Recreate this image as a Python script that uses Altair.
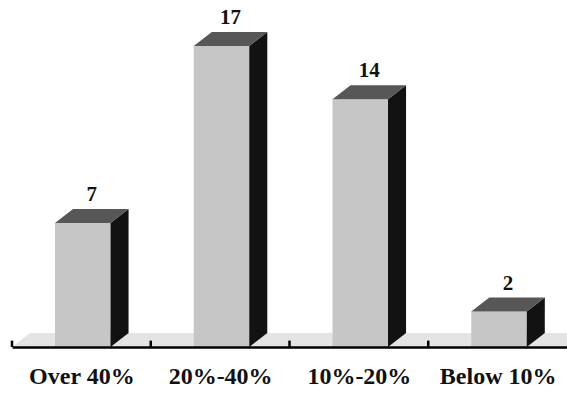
import altair as alt
import pandas as pd

# Distribution of counts by percentage band
categories = ["Over 40%", "20%-40%", "10%-20%", "Below 10%"]
counts = [7, 17, 14, 2]
tick_positions = [0, 1, 2, 3]
label_positions = [0.5, 1.5, 2.5, 3.5]

# Geometry of the pseudo-3D boxes, in data units
FACE_LEFT = 0.31     # offset of the front face inside its band
FACE_WIDTH = 0.40    # width of the front face
DEPTH_X = 0.13       # horizontal extrusion
DEPTH_Y = 0.79       # vertical extrusion
TICK_LEN = 0.36

FRONT = "#c6c6c6"
TOP = "#575757"
SIDE = "#121212"
FLOOR = "#e4e4e4"

front_rows, side_rows, top_rows, label_rows = [], [], [], []
for i, (cat, v) in enumerate(zip(categories, counts)):
    left = i + FACE_LEFT
    right = left + FACE_WIDTH
    front_rows.append({"bar": cat, "x": left, "x2": right, "y": 0, "y2": v})
    side_rows += [
        {"bar": cat, "x": right, "top": v, "base": 0},
        {"bar": cat, "x": right + DEPTH_X, "top": v + DEPTH_Y, "base": DEPTH_Y},
    ]
    top_rows += [
        {"bar": cat, "x": left, "top": v, "base": v},
        {"bar": cat, "x": left + DEPTH_X, "top": v + DEPTH_Y, "base": v},
        {"bar": cat, "x": right, "top": v + DEPTH_Y, "base": v},
        {"bar": cat, "x": right + DEPTH_X, "top": v + DEPTH_Y, "base": v + DEPTH_Y},
    ]
    label_rows.append({"x": left + (FACE_WIDTH + DEPTH_X) / 2, "y": v + DEPTH_Y, "count": v})

floor_rows = [
    {"x": 0, "top": 0, "base": 0},
    {"x": DEPTH_X, "top": DEPTH_Y, "base": 0},
    {"x": 4, "top": DEPTH_Y, "base": 0},
]
tick_rows = [{"x": t, "y": 0, "y2": TICK_LEN} for t in tick_positions]

label_expr = "[" + ",".join("'" + c + "'" for c in categories) + "][floor(datum.value)]"

x_scale = alt.Scale(domain=[0, 4], nice=False, zero=False)
y_scale = alt.Scale(domain=[0, 19.6], nice=False)

x_axis = alt.Axis(
    values=label_positions,
    labelExpr=label_expr,
    title=None,
    grid=False,
    ticks=False,
    tickSize=0,
    domain=True,
    domainColor="#000000",
    domainWidth=2.5,
    labelFont="Liberation Serif",
    labelFontWeight="bold",
    labelFontSize=24,
    labelColor="#111111",
    labelBaseline="alphabetic",
    labelPadding=36,
    labelAngle=0,
    zindex=2,
)

floor = alt.Chart(pd.DataFrame(floor_rows)).mark_area(color=FLOOR).encode(
    x=alt.X("x:Q", scale=x_scale, axis=x_axis),
    y=alt.Y("top:Q", scale=y_scale, axis=None),
    y2="base:Q",
)

front = alt.Chart(pd.DataFrame(front_rows)).mark_rect(color=FRONT).encode(
    x=alt.X("x:Q", scale=x_scale),
    x2="x2:Q",
    y=alt.Y("y:Q", scale=y_scale),
    y2="y2:Q",
)

side = alt.Chart(pd.DataFrame(side_rows)).mark_area(color=SIDE).encode(
    x=alt.X("x:Q", scale=x_scale),
    y=alt.Y("top:Q", scale=y_scale),
    y2="base:Q",
    detail="bar:N",
)

top = alt.Chart(pd.DataFrame(top_rows)).mark_area(color=TOP).encode(
    x=alt.X("x:Q", scale=x_scale),
    y=alt.Y("top:Q", scale=y_scale),
    y2="base:Q",
    detail="bar:N",
)

ticks = alt.Chart(pd.DataFrame(tick_rows)).mark_rule(color="#000000", strokeWidth=2.5).encode(
    x=alt.X("x:Q", scale=x_scale),
    y=alt.Y("y:Q", scale=y_scale),
    y2="y2:Q",
)

labels = alt.Chart(pd.DataFrame(label_rows)).mark_text(
    font="Liberation Serif",
    fontWeight="bold",
    fontSize=21,
    color="#111111",
    baseline="alphabetic",
    dy=-8,
).encode(
    x=alt.X("x:Q", scale=x_scale),
    y=alt.Y("y:Q", scale=y_scale),
    text="count:Q",
)

chart = alt.layer(floor, front, side, top, ticks, labels).properties(
    width=555,
    height=347,
    autosize=alt.AutoSizeParams(type="none"),
    padding={"left": 12, "right": 0, "top": 0, "bottom": 46},
    background="#ffffff",
).configure_view(stroke=None)

chart.save("out.html", embed_options={"renderer": "svg", "actions": False})
